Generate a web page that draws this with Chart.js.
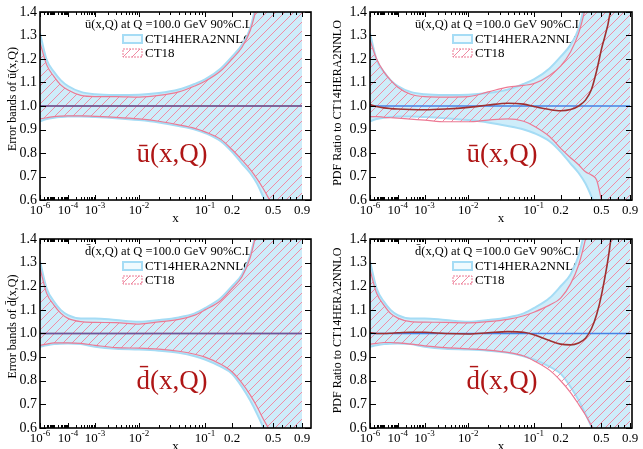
<!DOCTYPE html>
<html>
<head>
<meta charset="utf-8">
<title>CT18 vs CT14HERA2NNLO sea quarks</title>
<script src="https://cdn.jsdelivr.net/npm/chart.js@4.4.1/dist/chart.umd.min.js"></script>
<style>
  body { margin: 0; background: #fff; }
  #wrap { position: relative; width: 643px; height: 449px; }
  canvas { position: absolute; }
</style>
</head>
<body>
<div id="wrap">
  <canvas id="tl" width="321" height="226" style="left:0;top:0"></canvas>
  <canvas id="tr" width="322" height="226" style="left:321px;top:0"></canvas>
  <canvas id="bl" width="321" height="223" style="left:0;top:226px"></canvas>
  <canvas id="br" width="322" height="223" style="left:321px;top:226px"></canvas>
</div>
<script>
// x values shared by every curve
const xGrid = [1e-6, 3e-6, 1e-5, 3e-5, 1e-4, 3e-4, 1e-3, 3e-3, 0.01, 0.02, 0.04, 0.07,
  0.1, 0.15, 0.2, 0.25, 0.3, 0.35, 0.4, 0.45, 0.5, 0.6, 0.7, 0.8, 0.9];
const xEnds = [1e-6, 0.9];
const unity = [1.0, 1.0];

// ubar: error bands relative to own central fit
const ubarCT14Up = [1.31, 1.196, 1.145, 1.11, 1.085, 1.06, 1.05, 1.047, 1.048, 1.055, 1.07, 1.094,
  1.113, 1.16, 1.21, 1.26, 1.33, 1.45, 1.58, 1.72, 1.86, 2.10, 2.40, 2.70, 3.10];
const ubarCT14Dn = [0.935, 0.945, 0.95, 0.953, 0.955, 0.955, 0.953, 0.948, 0.94, 0.93, 0.915, 0.90,
  0.885, 0.85, 0.805, 0.755, 0.715, 0.67, 0.615, 0.56, 0.50, 0.40, 0.30, 0.20, 0.10];
const ubarCT18Up = [1.27, 1.175, 1.125, 1.09, 1.068, 1.045, 1.04, 1.04, 1.038, 1.045, 1.06, 1.085,
  1.105, 1.15, 1.20, 1.25, 1.32, 1.43, 1.56, 1.70, 1.82, 2.05, 2.35, 2.65, 3.00];
const ubarCT18Dn = [0.945, 0.95, 0.955, 0.957, 0.958, 0.958, 0.956, 0.952, 0.945, 0.935, 0.92, 0.905,
  0.89, 0.858, 0.815, 0.77, 0.73, 0.69, 0.65, 0.61, 0.57, 0.47, 0.37, 0.27, 0.17];
// ubar: CT18 relative to CT14HERA2NNLO central
const ubarRatioUp = [1.28, 1.20, 1.145, 1.11, 1.08, 1.05, 1.04, 1.038, 1.04, 1.06, 1.08, 1.088,
  1.095, 1.13, 1.17, 1.23, 1.31, 1.42, 1.55, 1.68, 1.80, 2.05, 2.30, 2.60, 3.00];
const ubarRatioDn = [0.955, 0.955, 0.952, 0.95, 0.948, 0.944, 0.94, 0.933, 0.933, 0.94, 0.945, 0.935,
  0.915, 0.87, 0.82, 0.78, 0.75, 0.72, 0.706, 0.685, 0.60, 0.40, 0.25, 0.10, 0.00];
const ubarRatioCentral = [1.006, 0.998, 0.992, 0.989, 0.987, 0.985, 0.984, 0.987, 0.994, 1.004, 1.012, 1.008,
  0.998, 0.985, 0.98, 0.985, 1.00, 1.025, 1.07, 1.15, 1.24, 1.40, 1.70, 2.00, 2.40];

// dbar
const dbarCT14Up = [1.305, 1.19, 1.135, 1.10, 1.078, 1.064, 1.064, 1.057, 1.05, 1.057, 1.068, 1.085,
  1.107, 1.15, 1.20, 1.25, 1.33, 1.45, 1.57, 1.70, 1.82, 2.05, 2.35, 2.65, 3.00];
const dbarCT14Dn = [0.944, 0.95, 0.955, 0.957, 0.958, 0.955, 0.944, 0.935, 0.932, 0.927, 0.918, 0.904,
  0.89, 0.86, 0.83, 0.774, 0.717, 0.66, 0.605, 0.55, 0.49, 0.38, 0.27, 0.16, 0.05];
const dbarCT18Up = [1.277, 1.17, 1.12, 1.086, 1.064, 1.05, 1.047, 1.046, 1.04, 1.049, 1.06, 1.078,
  1.10, 1.14, 1.19, 1.24, 1.32, 1.44, 1.56, 1.68, 1.80, 2.00, 2.30, 2.60, 2.90];
const dbarCT18Dn = [0.95, 0.955, 0.96, 0.96, 0.96, 0.958, 0.95, 0.94, 0.938, 0.934, 0.925, 0.912,
  0.90, 0.87, 0.838, 0.79, 0.74, 0.69, 0.64, 0.60, 0.56, 0.46, 0.36, 0.26, 0.16];
const dbarRatioUp = [1.27, 1.17, 1.12, 1.085, 1.065, 1.05, 1.048, 1.047, 1.045, 1.05, 1.06, 1.075,
  1.09, 1.12, 1.15, 1.21, 1.29, 1.40, 1.52, 1.64, 1.76, 2.00, 2.30, 2.60, 2.90];
const dbarRatioDn = [0.955, 0.958, 0.962, 0.962, 0.96, 0.955, 0.948, 0.94, 0.935, 0.93, 0.92, 0.905,
  0.885, 0.845, 0.80, 0.75, 0.70, 0.655, 0.61, 0.57, 0.53, 0.44, 0.34, 0.24, 0.14];
const dbarRatioCentral = [1.003, 1.0, 1.0, 1.001, 1.003, 1.005, 1.005, 1.0, 0.998, 1.003, 1.008, 1.005,
  0.995, 0.97, 0.955, 0.952, 0.96, 0.98, 1.02, 1.08, 1.16, 1.38, 1.70, 2.10, 2.50];

const seriesNames = ["CT14HERA2NNLO", "CT18"];
const xTickValues = [1e-6, 1e-4, 1e-3, 1e-2, 0.1, 0.2, 0.5, 0.9];
const xTickLabels = ["10^-6", "10^-4", "10^-3", "10^-2", "10^-1", "0.2", "0.5", "0.9"];
const yTickValues = [0.6, 0.7, 0.8, 0.9, 1.0, 1.1, 1.2, 1.3, 1.4];

const SERIF = '"Liberation Serif", "Times New Roman", serif';
const CT14_FILL = "rgb(206,237,250)";
const CT14_EDGE = "rgb(165,220,245)";
const CT18_EDGE = "rgb(236,122,148)";
const HATCH = "rgb(240,140,164)";
const BLUE_LINE = "rgb(70,130,228)";
const RED_LINE = "rgb(160,48,48)";
const LABEL_RED = "rgb(175,22,22)";

// minor ticks of the x axis
const xMinorTicks = [];
for (let k = -6; k <= -2; k++) {
  for (let m = 2; m <= 9; m++) xMinorTicks.push(m * Math.pow(10, k));
}
xMinorTicks.push(1e-5, 0.3, 0.4, 0.6, 0.7, 0.8);

// the x axis of the plotter: compressed log at small x, stretched near x = 1
const X_ANCHOR_LOG = [-6, -4, -3, -2, -1, Math.log10(0.2), Math.log10(0.5), Math.log10(0.9)];
const X_ANCHOR_POS = [0, 28, 55, 99, 165, 192, 233, 262];
function xUnit(v) {
  const l = Math.log10(v);
  let i = 0;
  while (i < X_ANCHOR_LOG.length - 2 && l > X_ANCHOR_LOG[i + 1]) i++;
  const a0 = X_ANCHOR_LOG[i], a1 = X_ANCHOR_LOG[i + 1];
  const p0 = X_ANCHOR_POS[i], p1 = X_ANCHOR_POS[i + 1];
  return p0 + (l - a0) * (p1 - p0) / (a1 - a0);
}

class PdfXScale extends Chart.Scale {
  static id = "pdfx";
  static defaults = {};
  determineDataLimits() {
    this.min = this.options.min;
    this.max = this.options.max;
  }
  buildTicks() {
    return xTickValues.map(v => ({ value: v }));
  }
  configure() {
    super.configure();
    this._u0 = xUnit(this.min);
    this._u1 = xUnit(this.max);
  }
  getPixelForValue(value) {
    return this.getPixelForDecimal((xUnit(value) - this._u0) / (this._u1 - this._u0));
  }
  getValueForPixel(pixel) {
    // coarse inverse, only used for interaction
    const u = this._u0 + this.getDecimalForPixel(pixel) * (this._u1 - this._u0);
    let lo = -7, hi = 0.2;
    for (let n = 0; n < 40; n++) {
      const mid = (lo + hi) / 2;
      if (xUnit(Math.pow(10, mid)) < u) lo = mid; else hi = mid;
    }
    return Math.pow(10, lo);
  }
  getLabelForValue(value) {
    return String(value);
  }
}
Chart.register(PdfXScale);

function makeHatch() {
  const c = document.createElement("canvas");
  c.width = 9;
  c.height = 9;
  const g = c.getContext("2d");
  g.strokeStyle = HATCH;
  g.lineWidth = 1;
  g.beginPath();
  g.moveTo(0, 9); g.lineTo(9, 0);
  g.moveTo(-3, 3); g.lineTo(3, -3);
  g.moveTo(6, 12); g.lineTo(12, 6);
  g.stroke();
  return g.createPattern(c, "repeat");
}
const hatch = makeHatch();

function pts(xs, ys) {
  return xs.map((x, i) => ({ x, y: ys[i] }));
}

// Frame, inward ticks, tick labels and panel texts
const pdfAxes = {
  id: "pdfAxes",
  beforeDatasetsDraw(chart, args, o) {
    const { ctx, chartArea: a } = chart;
    ctx.save();
    ctx.textBaseline = "middle";
    ctx.textAlign = "left";
    ctx.fillStyle = "#000";
    ctx.font = "12.5px " + SERIF;
    ctx.fillText(o.pdf + "(x,Q) at Q =100.0 GeV 90%C.L.", a.left + 45, a.top + 13);

    ctx.fillStyle = "rgb(240,250,254)";
    ctx.fillRect(a.left + 83, a.top + 23, 19, 8);
    ctx.lineWidth = 2;
    ctx.strokeStyle = CT14_EDGE;
    ctx.strokeRect(a.left + 83, a.top + 23, 19, 8);

    ctx.fillStyle = hatch;
    ctx.fillRect(a.left + 83, a.top + 37, 19, 8);
    ctx.lineWidth = 1;
    ctx.strokeStyle = CT18_EDGE;
    ctx.setLineDash([2, 1]);
    ctx.strokeRect(a.left + 83, a.top + 37, 19, 8);
    ctx.setLineDash([]);

    ctx.fillStyle = "#000";
    ctx.font = "13px " + SERIF;
    ctx.fillText(seriesNames[0], a.left + 105, a.top + 27.5);
    ctx.fillText(seriesNames[1], a.left + 105, a.top + 41.5);

    ctx.fillStyle = LABEL_RED;
    ctx.font = "27px " + SERIF;
    ctx.textAlign = "center";
    ctx.fillText(o.pdf + "(x,Q)", a.left + 132, a.top + 143);
    ctx.restore();
  },
  afterDraw(chart, args, o) {
    const { ctx, chartArea: a } = chart;
    const xs = chart.scales.x, ys = chart.scales.y;
    ctx.save();
    ctx.strokeStyle = "#000";
    ctx.lineWidth = 1;
    ctx.beginPath();
    xTickValues.concat(xMinorTicks).forEach((v, i) => {
      const len = i < xTickValues.length ? 5 : 3;
      const px = Math.round(xs.getPixelForValue(v)) + 0.5;
      ctx.moveTo(px, a.bottom); ctx.lineTo(px, a.bottom - len);
      ctx.moveTo(px, a.top); ctx.lineTo(px, a.top + len);
    });
    yTickValues.forEach(v => {
      const py = Math.round(ys.getPixelForValue(v)) + 0.5;
      ctx.moveTo(a.left, py); ctx.lineTo(a.left + 6, py);
      ctx.moveTo(a.right, py); ctx.lineTo(a.right - 6, py);
    });
    ctx.stroke();
    ctx.lineWidth = 1.6;
    ctx.strokeRect(a.left, a.top, a.right - a.left, a.bottom - a.top);

    ctx.fillStyle = "#000";
    ctx.textBaseline = "middle";
    ctx.textAlign = "right";
    ctx.font = "14px " + SERIF;
    yTickValues.forEach(v => {
      ctx.fillText(v.toFixed(1), a.left - 3, ys.getPixelForValue(v));
    });

    xTickValues.forEach((v, i) => {
      const px = xs.getPixelForValue(v);
      const [base, exp] = xTickLabels[i].split("^");
      ctx.textAlign = "left";
      ctx.font = "13px " + SERIF;
      const wb = ctx.measureText(base).width;
      let we = 0;
      if (exp) {
        ctx.font = "9px " + SERIF;
        we = ctx.measureText(exp).width;
      }
      const x0 = px - (wb + we) / 2;
      ctx.font = "13px " + SERIF;
      ctx.fillText(base, x0, a.bottom + 11);
      if (exp) {
        ctx.font = "9px " + SERIF;
        ctx.fillText(exp, x0 + wb, a.bottom + 6);
      }
    });
    ctx.textAlign = "center";
    ctx.font = "13px " + SERIF;
    ctx.fillText("x", (a.left + a.right) / 2, a.bottom + 19);

    ctx.font = "12px " + SERIF;
    ctx.translate(o.yTitleX, (a.top + a.bottom) / 2 + o.yTitleShift);
    ctx.rotate(-Math.PI / 2);
    ctx.fillText(o.yTitle, 0, 0);
    ctx.restore();
  }
};

function makePanel(id, p) {
  const datasets = [
    { data: pts(xGrid, p.ct14Up), borderColor: CT14_EDGE, borderWidth: 2, fill: false, order: 5 },
    { data: pts(xGrid, p.ct14Dn), borderColor: CT14_EDGE, borderWidth: 2,
      fill: { target: 0 }, backgroundColor: CT14_FILL, order: 5 },
    { data: pts(xGrid, p.ct18Up), borderColor: CT18_EDGE, borderWidth: 1.2, fill: false, order: 4 },
    { data: pts(xGrid, p.ct18Dn), borderColor: CT18_EDGE, borderWidth: 1.2,
      fill: { target: 2 }, backgroundColor: hatch, order: 4 }
  ];
  if (p.ratio) {
    datasets.push({ data: pts(xEnds, unity), borderColor: BLUE_LINE, borderWidth: 1.6, order: 2 });
    datasets.push({ data: pts(xGrid, p.ratio), borderColor: RED_LINE, borderWidth: 1.6, order: 1 });
  } else {
    datasets.push({ data: pts(xEnds, unity), borderColor: RED_LINE, borderWidth: 1.6, order: 2 });
    datasets.push({ data: pts(xEnds, unity), borderColor: "rgba(70,110,230,0.6)", borderWidth: 1.6, order: 1 });
  }

  new Chart(document.getElementById(id), {
    type: "line",
    data: { datasets },
    options: {
      responsive: false,
      animation: false,
      devicePixelRatio: 1,
      layout: { padding: p.padding },
      elements: {
        point: { radius: 0 },
        line: { cubicInterpolationMode: "monotone" }
      },
      scales: {
        x: { type: "pdfx", min: 1e-6, max: p.xMax, display: false },
        y: { type: "linear", min: 0.6, max: 1.4, display: false }
      },
      plugins: {
        legend: { display: false },
        tooltip: { enabled: false },
        pdfAxes: { pdf: p.pdf, yTitle: p.yTitle, yTitleX: p.yTitleX, yTitleShift: p.yTitleShift }
      }
    },
    plugins: [pdfAxes]
  });
}

const UBAR = "\u016b";
const DBAR = "d\u0304";

makePanel("tl", {
  pdf: UBAR, yTitle: "Error bands of " + UBAR + "(x,Q)", yTitleX: 13, yTitleShift: -7,
  xMax: 1.08, padding: { left: 40, top: 12, right: 10, bottom: 26 },
  ct14Up: ubarCT14Up, ct14Dn: ubarCT14Dn, ct18Up: ubarCT18Up, ct18Dn: ubarCT18Dn
});
makePanel("tr", {
  pdf: UBAR, yTitle: "PDF Ratio to CT14HERA2NNLO", yTitleX: 17, yTitleShift: -3,
  xMax: 0.935, padding: { left: 49, top: 12, right: 11, bottom: 26 },
  ct14Up: ubarCT14Up, ct14Dn: ubarCT14Dn, ct18Up: ubarRatioUp, ct18Dn: ubarRatioDn,
  ratio: ubarRatioCentral
});
makePanel("bl", {
  pdf: DBAR, yTitle: "Error bands of " + DBAR + "(x,Q)", yTitleX: 13, yTitleShift: -7,
  xMax: 1.08, padding: { left: 40, top: 13, right: 10, bottom: 21 },
  ct14Up: dbarCT14Up, ct14Dn: dbarCT14Dn, ct18Up: dbarCT18Up, ct18Dn: dbarCT18Dn
});
makePanel("br", {
  pdf: DBAR, yTitle: "PDF Ratio to CT14HERA2NNLO", yTitleX: 17, yTitleShift: -3,
  xMax: 0.935, padding: { left: 49, top: 13, right: 11, bottom: 21 },
  ct14Up: dbarCT14Up, ct14Dn: dbarCT14Dn, ct18Up: dbarRatioUp, ct18Dn: dbarRatioDn,
  ratio: dbarRatioCentral
});
</script>
</body>
</html>
